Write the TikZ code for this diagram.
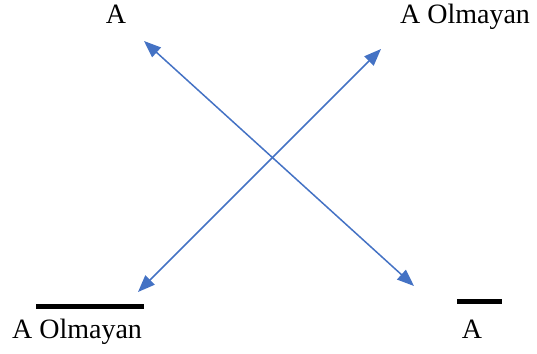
\documentclass[tikz,border=0pt]{standalone}
\usepackage{fontspec}
\setmainfont{Liberation Serif}
\usepackage{xcolor}
\usetikzlibrary{arrows.meta, positioning}

\definecolor{linkblue}{RGB}{68,114,196}

\begin{document}
\begin{tikzpicture}[x=0.5pt, y=-0.5pt,
    term/.style={anchor=base, inner sep=0pt, font=\fontsize{14}{16}\selectfont},
    link/.style={{Triangle[length=8.5pt, width=6.5pt]}-{Triangle[length=8.5pt, width=6.5pt]}, linkblue, line width=0.75pt},
    negbar/.style={line width=2.5pt}]
    \useasboundingbox (0,0) rectangle (537,354);

    % Terms
    \node[term] (a) at (116,23) {A};
    \node[term] (nota) at (465,23) {A Olmayan};
    \node[term] (notabar) at (77,338) {A Olmayan};
    \node[term] (abar) at (472,338) {A};

    % Bars over the lower terms
    \coordinate (b1s) at (36,306);
    \coordinate (b1e) at (144,306);
    \coordinate (b2s) at (457,301);
    \coordinate (b2e) at (502,301);
    \draw[negbar] (b1s) -- (b1e);
    \draw[negbar] (b2s) -- (b2e);

    % Arrow ends
    \coordinate (p1) at (144,41);
    \coordinate (p2) at (414,286);
    \coordinate (p3) at (381,49);
    \coordinate (p4) at (138,292);
    \draw[link] (p1) -- (p2);
    \draw[link] (p3) -- (p4);
\end{tikzpicture}
\end{document}
